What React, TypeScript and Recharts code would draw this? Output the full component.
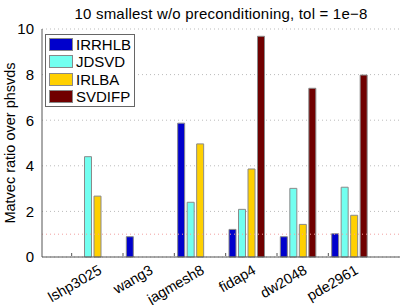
import { BarChart, Bar, XAxis, YAxis, CartesianGrid, ReferenceLine } from 'recharts'

const FONT = '"Liberation Sans", Arial, Helvetica, sans-serif'

// matrices on the x axis
const matrices = ['lshp3025', 'wang3', 'jagmesh8', 'fidap4', 'dw2048', 'pde2961']

// matvec ratio over phsvds (null = no bar)
const irrhlb = [null, 0.89, 5.87, 1.21, 0.89, 1.02]
const jdsvd = [4.4, null, 2.4, 2.09, 3.01, 3.06]
const irlba = [2.67, null, 4.96, 3.86, 1.43, 1.83]
const svdifp = [null, null, null, 9.68, 7.4, 7.98]

const yTicks = [0, 2, 4, 6, 8, 10]

const seriesNames = ['IRRHLB', 'JDSVD', 'IRLBA', 'SVDIFP']
const seriesColors = ['#0000cc', '#72fff0', '#ffd000', '#700000']

const data = matrices.map((name, i) => ({
  name,
  IRRHLB: irrhlb[i],
  JDSVD: jdsvd[i],
  IRLBA: irlba[i],
  SVDIFP: svdifp[i]
}))

const BottomTick = ({ x, y, payload }: any) => (
  <g>
    <line x1={x - 21} x2={x - 21} y1={y - 9} y2={y - 12} stroke="#555" />
    <text
      x={x + 10}
      y={y + 8}
      textAnchor="end"
      transform={`rotate(-30, ${x + 10}, ${y + 8})`}
      fontSize={14.5}
      fontFamily={FONT}
      fill="#000"
    >
      {payload.value}
    </text>
  </g>
)

const TopTick = ({ x, y }: any) => (
  <line x1={x - 21} x2={x - 21} y1={y} y2={y + 3} stroke="#555" />
)

const LegendBox = () => (
  <div
    style={{
      position: 'absolute',
      left: 45,
      top: 34,
      border: '1px solid #666',
      background: '#fff',
      width: 82,
      padding: '1px 3px',
      fontFamily: FONT
    }}
  >
    {seriesNames.map((s, i) => (
      <div key={s} style={{ display: 'flex', alignItems: 'center', height: 17.3 }}>
        <div
          style={{
            width: 22,
            height: 11,
            background: seriesColors[i],
            border: '1px solid #888',
            marginRight: 3
          }}
        />
        <span style={{ fontSize: 15, color: '#000' }}>{s}</span>
      </div>
    ))}
  </div>
)

export default function App() {
  return (
    <div style={{ position: 'absolute', left: 0, top: 0, width: 407, height: 305, background: '#fff' }}>
      <BarChart
        width={407}
        height={305}
        data={data}
        margin={{ top: 29, right: 7, bottom: 0, left: 0 }}
        barSize={7}
        barGap={2.5}
        style={{ position: 'absolute', left: 0, top: 0, overflow: 'visible' }}
      >
        <CartesianGrid vertical={false} stroke="#bbb" strokeDasharray="1 3" />
        <ReferenceLine y={1} stroke="#f2a0a0" strokeDasharray="1 3" />
        <XAxis
          dataKey="name"
          padding={{ left: 25, right: 25 }}
          axisLine={{ stroke: '#555' }}
          tickLine={false}
          interval={0}
          tick={<BottomTick />}
          height={48}
        />
        <XAxis
          xAxisId="top"
          dataKey="name"
          orientation="top"
          padding={{ left: 25, right: 25 }}
          axisLine={{ stroke: '#555' }}
          tickLine={false}
          interval={0}
          tick={<TopTick />}
          height={0}
        />
        <YAxis
          domain={[0, 10]}
          ticks={yTicks}
          width={42}
          axisLine={{ stroke: '#555' }}
          tickLine={false}
          tick={{ fontSize: 15, fill: '#000', fontFamily: FONT }}
        />
        <YAxis
          yAxisId="right"
          orientation="right"
          domain={[0, 10]}
          width={0}
          axisLine={{ stroke: '#555' }}
          tick={false}
          tickLine={false}
        />
        {seriesNames.map((s, i) => (
          <Bar
            key={s}
            dataKey={s}
            fill={seriesColors[i]}
            stroke="#8a8a8a"
            strokeWidth={1}
            isAnimationActive={false}
          />
        ))}
      </BarChart>
      <div
        style={{
          position: 'absolute',
          top: 5,
          left: 42,
          width: 358,
          textAlign: 'center',
          fontFamily: FONT,
          fontSize: 15,
          letterSpacing: 0.2
        }}
      >
        10 smallest w/o preconditioning, tol = 1e−8
      </div>
      <div
        style={{
          position: 'absolute',
          left: 10,
          top: 143,
          transform: 'translate(-50%, -50%) rotate(-90deg)',
          whiteSpace: 'nowrap',
          fontFamily: FONT,
          fontSize: 14.5
        }}
      >
        Matvec ratio over phsvds
      </div>
      <LegendBox />
    </div>
  )
}
